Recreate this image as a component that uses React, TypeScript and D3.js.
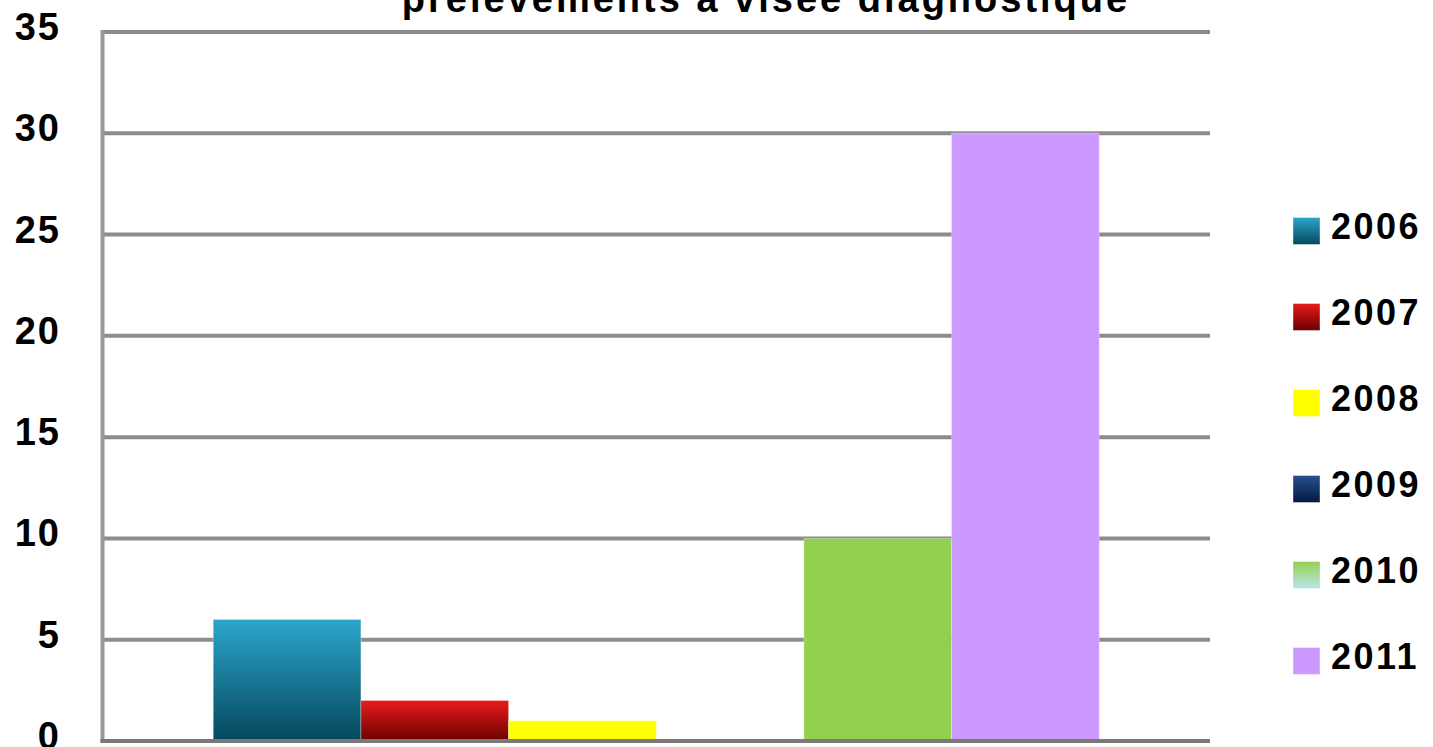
import React from "react";
import * as d3 from "d3";

const title = "prélèvements à visée diagnostique";
const categories = [""];
const years = ["2006", "2007", "2008", "2009", "2010", "2011"];
const values = [6, 2, 1, 0, 10, 30];
const yTicks = [0, 5, 10, 15, 20, 25, 30, 35];

const fills: Record<string, [string, string]> = {
  "2006": ["#2ca6cb", "#05475c"],
  "2007": ["#e81c1c", "#6c0000"],
  "2008": ["#ffff00", "#ffff00"],
  "2009": ["#27508f", "#031a42"],
  "2010": ["#94d050", "#94d050"],
  "2011": ["#cc99ff", "#cc99ff"],
};
const legendFills: Record<string, [string, string]> = {
  ...fills,
  "2010": ["#94d050", "#b8e6ea"],
};

const W = 1433;
const H = 747;
const M = { left: 102.5, right: 1210, top: 32, bottom: 741 };

export default function App() {
  const x0 = d3.scaleBand<string>().domain(categories).range([M.left, M.right]).paddingOuter(0.125).paddingInner(0);
  const x1 = d3.scaleBand<string>().domain(years).range([0, x0.bandwidth()]).padding(0);
  const y = d3.scaleLinear().domain([0, 35]).range([M.bottom, M.top]);
  const legendY = d3.scalePoint<string>().domain(years).range([231, 661]);
  const font = "'Liberation Sans', Arial, sans-serif";

  return (
    <svg width={W} height={H} style={{ position: "absolute", left: 0, top: 0, background: "#fff" }}>
      <defs>
        {years.map((yr) => (
          <linearGradient key={yr} id={`g${yr}`} x1="0" y1="0" x2="0" y2="1">
            <stop offset="0%" stopColor={fills[yr][0]} />
            <stop offset="100%" stopColor={fills[yr][1]} />
          </linearGradient>
        ))}
        {years.map((yr) => (
          <linearGradient key={yr} id={`l${yr}`} x1="0" y1="0" x2="0" y2="1">
            <stop offset="0%" stopColor={legendFills[yr][0]} />
            <stop offset="100%" stopColor={legendFills[yr][1]} />
          </linearGradient>
        ))}
      </defs>
      <text x={766} y={12} textAnchor="middle" fontFamily={font} fontWeight="bold" fontSize={38} letterSpacing={3} fill="#000">
        {title}
      </text>
      {yTicks.filter((t) => t > 0).map((t) => (
        <line key={t} x1={M.left} x2={M.right} y1={y(t)} y2={y(t)} stroke="#8c8c8c" strokeWidth={4} />
      ))}
      <line x1={M.left} x2={M.left} y1={y(35) - 2} y2={M.bottom + 2} stroke="#999" strokeWidth={4} />
      {categories.map((c) => (
        <g key={c} transform={`translate(${x0(c)},0)`}>
          {years.map((yr, i) =>
            values[i] > 0 ? (
              <rect
                key={yr}
                x={x1(yr)}
                y={y(values[i])}
                width={x1.bandwidth()}
                height={y(0) - y(values[i])}
                fill={`url(#g${yr})`}
                stroke="rgba(255,255,255,0.3)"
                strokeWidth={1}
              />
            ) : null
          )}
        </g>
      ))}
      <line x1={M.left - 2} x2={M.right} y1={M.bottom} y2={M.bottom} stroke="#7a7a7a" strokeWidth={4} />
      {yTicks.map((t) => (
        <text key={t} x={61} y={y(t) + 8} textAnchor="end" fontFamily={font} fontWeight="bold" fontSize={38} letterSpacing={2} fill="#000">
          {t}
        </text>
      ))}
      {years.map((yr) => (
        <g key={yr} transform={`translate(0,${legendY(yr)})`}>
          <rect x={1293} y={-13.5} width={27} height={27} fill={`url(#l${yr})`} stroke="rgba(255,255,255,0.4)" strokeWidth={1} />
          <text x={1331} y={8} fontFamily={font} fontWeight="bold" fontSize={36} letterSpacing={2.5} fill="#000">
            {yr}
          </text>
        </g>
      ))}
    </svg>
  );
}
